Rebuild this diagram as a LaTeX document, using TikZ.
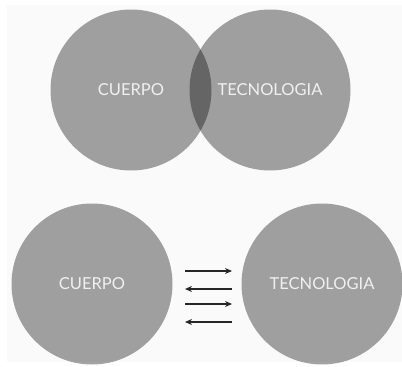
\documentclass[tikz,border=0pt]{standalone}
\usepackage{fontspec}
\setmainfont{Lato}
\usetikzlibrary{arrows.meta}

\begin{document}
\begin{tikzpicture}[x=1pt, y=-1pt,
    every node/.style={text=white!94!black, font=\fontsize{16.5}{18}\selectfont},
    bubble/.style={circle, minimum size=161pt, inner sep=0pt, fill=black, fill opacity=0.36, text opacity=1},
    flow/.style={-{Stealth[length=7pt, width=6pt]}, line width=1.4pt, black!85}]
  \useasboundingbox (0,0) rectangle (402,367);
  \fill[black!2] (7,5) rectangle (402,362);
  % oben: Schnittmenge
  \node[bubble] (cuerpoA) at (131,90) {CUERPO};
  \node[bubble] (tecnoA) at (270,90) {TECNOLOGIA};
  % unten: Austausch
  \node[bubble] (cuerpoB) at (92,284) {CUERPO};
  \node[bubble] (tecnoB) at (322,284) {TECNOLOGIA};
  \coordinate (l1) at (185,271); \coordinate (r1) at (232,271);
  \coordinate (l2) at (185,289); \coordinate (r2) at (232,289);
  \coordinate (l3) at (185,304); \coordinate (r3) at (232,304);
  \coordinate (l4) at (185,322); \coordinate (r4) at (232,322);
  \draw[flow] (l1) -- (r1);
  \draw[flow] (r2) -- (l2);
  \draw[flow] (l3) -- (r3);
  \draw[flow] (r4) -- (l4);
\end{tikzpicture}
\end{document}
